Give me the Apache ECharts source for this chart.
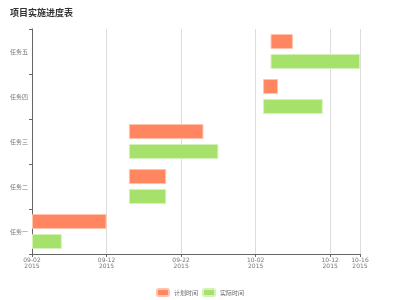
<!DOCTYPE html>
<html>
<head>
<meta charset="utf-8">
<script src="https://cdn.jsdelivr.net/npm/echarts@6/dist/echarts.min.js"></script>
<style>html,body{margin:0;padding:0;background:#fff;}#c{width:400px;height:300px;}</style>
</head>
<body>
<div id="c"></div>
<script>
var categories = ['任务一', '任务二', '任务三', '任务四', '任务五'];
var planStart = ['2015-09-02', '2015-09-15', '2015-09-15', '2015-10-03', '2015-10-04'];
var planEnd   = ['2015-09-12', '2015-09-20', '2015-09-25', '2015-10-05', '2015-10-07'];
var actStart  = ['2015-09-02', '2015-09-15', '2015-09-15', '2015-10-03', '2015-10-04'];
var actEnd    = ['2015-09-06', '2015-09-20', '2015-09-27', '2015-10-11', '2015-10-16'];
var axisStart = '2015-09-02';
var axisEnd = '2015-10-16';
var tickDays = 10;

var DAY = 86400000;
function toDay(s) { return Math.round((Date.parse(s + 'T00:00:00Z') - Date.parse(axisStart + 'T00:00:00Z')) / DAY); }
function pad(n) { return (n < 10 ? '0' : '') + n; }
function dayLabel(v) {
  var d = new Date(Date.parse(axisStart + 'T00:00:00Z') + v * DAY);
  return pad(d.getUTCMonth() + 1) + '-' + pad(d.getUTCDate()) + '\n' + d.getUTCFullYear();
}
var planBase = planStart.map(toDay);
var planDur = planEnd.map(function (e, i) { return toDay(e) - toDay(planStart[i]); });
var actBase = actStart.map(toDay);
var actDur = actEnd.map(function (e, i) { return toDay(e) - toDay(actStart[i]); });

var chart = echarts.init(document.getElementById('c'), null, {renderer: 'canvas'});
chart.setOption({
  animation: false,
  title: {text: '项目实施进度表', left: 5, top: 3, textStyle: {fontSize: 9, fontWeight: 'bold', color: '#333', fontFamily: 'Noto Sans CJK SC'}},
  legend: {
    bottom: 3, left: 'center', padding: 0, itemWidth: 12, itemHeight: 7, itemGap: 4,
    textStyle: {fontSize: 6, color: '#666', fontFamily: 'Noto Sans CJK SC'},
    data: ['计划时间', '实际时间']
  },
  grid: {left: 32, right: 40, top: 29, bottom: 46, containLabel: false},
  xAxis: {
    type: 'value', min: 0, max: toDay(axisEnd), interval: tickDays,
    axisLine: {show: true, lineStyle: {color: '#666'}},
    axisTick: {show: true, length: 3, lineStyle: {color: '#666'}},
    axisLabel: {formatter: dayLabel, fontSize: 6, color: '#777', lineHeight: 6, margin: 3, showMaxLabel: true, fontFamily: 'DejaVu Sans'},
    splitLine: {show: true, lineStyle: {color: '#ddd'}}
  },
  yAxis: {
    type: 'category', data: categories,
    axisLine: {show: true, lineStyle: {color: '#666'}},
    axisTick: {show: true, length: 3, lineStyle: {color: '#666'}},
    axisLabel: {fontSize: 6, color: '#777', margin: 4, fontFamily: 'Noto Sans CJK SC'},
    splitLine: {show: false}
  },
  series: [
    {name: '计划开始', type: 'bar', stack: 'plan', data: planBase, barWidth: 15, barGap: '33%',
     itemStyle: {color: 'rgba(0,0,0,0)'}, silent: true},
    {name: '计划时间', type: 'bar', stack: 'plan', data: planDur, barWidth: 15, barGap: '33%',
     itemStyle: {color: '#ff8660', borderColor: '#ffc4ae', borderWidth: 1}},
    {name: '实际开始', type: 'bar', stack: 'act', data: actBase, barWidth: 15, barGap: '33%',
     itemStyle: {color: 'rgba(0,0,0,0)'}, silent: true},
    {name: '实际时间', type: 'bar', stack: 'act', data: actDur, barWidth: 15, barGap: '33%',
     itemStyle: {color: '#a6e26b', borderColor: '#d4f2ba', borderWidth: 1}}
  ]
});
</script>
</body>
</html>
